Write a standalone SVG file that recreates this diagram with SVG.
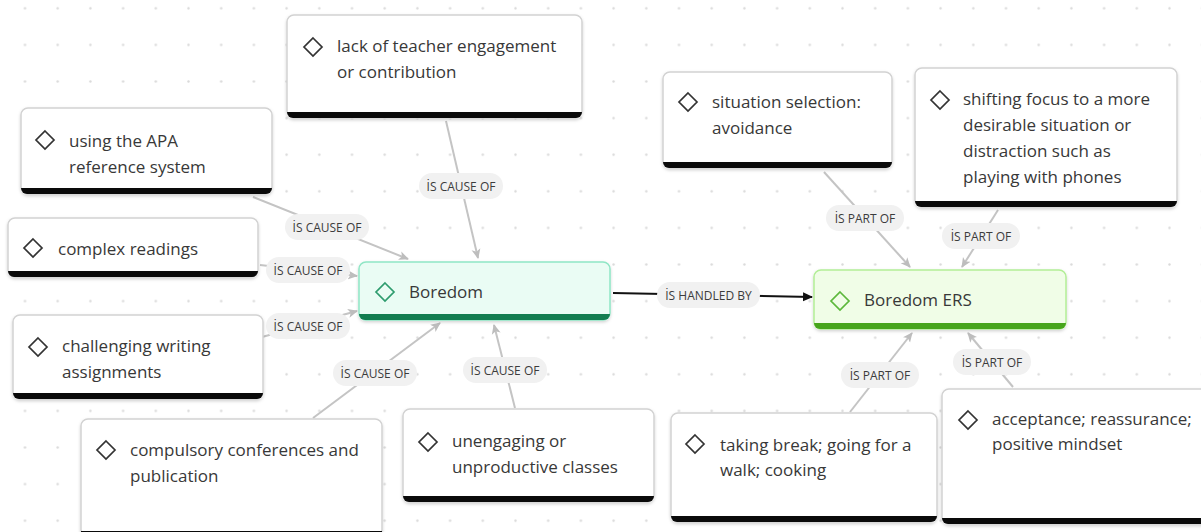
<svg xmlns="http://www.w3.org/2000/svg" width="1201" height="532" viewBox="0 0 1201 532">
  <defs>
    <pattern id="dots" x="8.65" y="-10" width="32.7" height="36.6" patternUnits="userSpaceOnUse">
      <circle cx="16.35" cy="18.3" r="1.2" fill="#dadada"/>
    </pattern>
    <filter id="shadow" x="-10%" y="-10%" width="120%" height="130%">
      <feDropShadow dx="0" dy="1.5" stdDeviation="1.5" flood-color="#000" flood-opacity="0.18"/>
    </filter>
    <marker id="arrow-grey" viewBox="0 0 10 10" refX="9" refY="5" markerWidth="10" markerHeight="10" markerUnits="userSpaceOnUse" orient="auto">
      <path d="M0,0.5 L10,5 L0,9.5 L2.5,5 Z" fill="#bdbdbd"/>
    </marker>
    <marker id="arrow-black" viewBox="0 0 10 10" refX="9" refY="5" markerWidth="10" markerHeight="10" markerUnits="userSpaceOnUse" orient="auto">
      <path d="M0,0.5 L10,5 L0,9.5 Z" fill="#111"/>
    </marker>
  </defs>
  <style>
    .bg { fill: #ffffff; }
    .card { fill: #ffffff; stroke: #d2d2d2; stroke-width: 1.5; filter: url(#shadow); }
    .bar { fill: #0a0a0a; }
    .icon { fill: none; stroke: #333; stroke-width: 1.7; stroke-linejoin: miter; }
    .txt { font-family: "Open Sans", "Noto Sans", "Liberation Sans", sans-serif; font-size: 17px; font-weight: 500; fill: #383838; }
    .link { fill: none; stroke: #c4c4c4; stroke-width: 2; marker-end: url(#arrow-grey); }
    .link-main { fill: none; stroke: #111; stroke-width: 2; marker-end: url(#arrow-black); }
    .pill { fill: #f1f1f1; }
    .lbl { font-family: "Open Sans", "Noto Sans", "Liberation Sans", sans-serif; font-size: 12px; font-weight: 500; fill: #3c3c3c; text-anchor: middle; }
    .root .card { fill: #eafcf4; stroke: #8fe6c5; }
    .root .bar { fill: #137d50; }
    .root .icon { stroke: #2e9c6e; }
    .ers .card { fill: #f0fde7; stroke: #b2ee96; }
    .ers .bar { fill: #47a51c; }
    .ers .icon { stroke: #5cb83c; }
  </style>

  <rect class="bg" x="0" y="0" width="1201" height="532"/>
  <rect x="0" y="0" width="1201" height="532" fill="url(#dots)"/>

  <!-- connectors -->
  <g id="connectors">
    <line class="link" x1="446" y1="121" x2="478" y2="258"/>
    <line class="link" x1="253" y1="197" x2="408" y2="259"/>
    <line class="link" x1="260" y1="265" x2="357" y2="276"/>
    <line class="link" x1="262" y1="337" x2="357" y2="311"/>
    <line class="link" x1="313" y1="418" x2="440" y2="323"/>
    <line class="link" x1="515" y1="408" x2="494" y2="325"/>
    <line class="link-main" x1="613" y1="293" x2="812" y2="297"/>
    <line class="link" x1="824" y1="172" x2="910" y2="267"/>
    <line class="link" x1="998" y1="210" x2="962" y2="267"/>
    <line class="link" x1="850" y1="412" x2="912" y2="333"/>
    <line class="link" x1="1013" y1="387" x2="968" y2="333"/>

    <rect class="pill" x="419" y="173" width="84" height="26" rx="13"/>
    <text class="lbl" x="461" y="190.5">İS CAUSE OF</text>
    <rect class="pill" x="285" y="214" width="84" height="26" rx="13"/>
    <text class="lbl" x="327" y="231.5">İS CAUSE OF</text>
    <rect class="pill" x="266" y="257" width="84" height="26" rx="13"/>
    <text class="lbl" x="308" y="274.5">İS CAUSE OF</text>
    <rect class="pill" x="266" y="313" width="84" height="26" rx="13"/>
    <text class="lbl" x="308" y="330.5">İS CAUSE OF</text>
    <rect class="pill" x="333" y="360" width="84" height="26" rx="13"/>
    <text class="lbl" x="375" y="377.5">İS CAUSE OF</text>
    <rect class="pill" x="463" y="357" width="84" height="26" rx="13"/>
    <text class="lbl" x="505" y="374.5">İS CAUSE OF</text>
    <rect class="pill" x="657" y="282" width="103" height="26" rx="13"/>
    <text class="lbl" x="708.5" y="299.5">İS HANDLED BY</text>
    <rect class="pill" x="826" y="205" width="78" height="26" rx="13"/>
    <text class="lbl" x="865" y="222.5">İS PART OF</text>
    <rect class="pill" x="942" y="223" width="78" height="26" rx="13"/>
    <text class="lbl" x="981" y="240.5">İS PART OF</text>
    <rect class="pill" x="841" y="362" width="78" height="26" rx="13"/>
    <text class="lbl" x="880" y="379.5">İS PART OF</text>
    <rect class="pill" x="953" y="349" width="78" height="26" rx="13"/>
    <text class="lbl" x="992" y="366.5">İS PART OF</text>
  </g>

  <!-- cause nodes -->
  <g id="node-teacher">
    <rect class="card" x="287" y="15" width="295" height="103" rx="7"/>
    <path class="bar" d="M287,112 H582 A6,6 0 0 1 576,118 H293 A6,6 0 0 1 287,112 Z"/>
    <path class="icon" d="M313,38 L322,47 L313,56 L304,47 Z"/>
    <text class="txt" x="337" y="52">lack of teacher engagement</text>
    <text class="txt" x="337" y="78">or contribution</text>
  </g>

  <g id="node-apa">
    <rect class="card" x="21" y="108" width="251" height="86" rx="7"/>
    <path class="bar" d="M21,188 H272 A6,6 0 0 1 266,194 H27 A6,6 0 0 1 21,188 Z"/>
    <path class="icon" d="M45,131 L54,140 L45,149 L36,140 Z"/>
    <text class="txt" x="69" y="147">using the APA</text>
    <text class="txt" x="69" y="173">reference system</text>
  </g>

  <g id="node-readings">
    <rect class="card" x="8" y="218" width="250" height="59" rx="7"/>
    <path class="bar" d="M8,271 H258 A6,6 0 0 1 252,277 H14 A6,6 0 0 1 8,271 Z"/>
    <path class="icon" d="M33,239 L42,248 L33,257 L24,248 Z"/>
    <text class="txt" x="58" y="255">complex readings</text>
  </g>

  <g id="node-writing">
    <rect class="card" x="13" y="315" width="250" height="84" rx="7"/>
    <path class="bar" d="M13,393 H263 A6,6 0 0 1 257,399 H19 A6,6 0 0 1 13,393 Z"/>
    <path class="icon" d="M38,338 L47,347 L38,356 L29,347 Z"/>
    <text class="txt" x="62" y="352">challenging writing</text>
    <text class="txt" x="62" y="378">assignments</text>
  </g>

  <g id="node-conferences">
    <rect class="card" x="81" y="419" width="301" height="118" rx="7"/>
    <path class="bar" d="M81,531 H382 A6,6 0 0 1 376,537 H87 A6,6 0 0 1 81,531 Z"/>
    <path class="icon" d="M106,441 L115,450 L106,459 L97,450 Z"/>
    <text class="txt" x="130" y="456">compulsory conferences and</text>
    <text class="txt" x="130" y="482">publication</text>
  </g>

  <g id="node-classes">
    <rect class="card" x="403" y="409" width="251" height="93" rx="7"/>
    <path class="bar" d="M403,496 H654 A6,6 0 0 1 648,502 H409 A6,6 0 0 1 403,496 Z"/>
    <path class="icon" d="M428,433 L437,442 L428,451 L419,442 Z"/>
    <text class="txt" x="452" y="447">unengaging or</text>
    <text class="txt" x="452" y="473">unproductive classes</text>
  </g>

  <!-- central topics -->
  <g id="node-boredom" class="root">
    <rect class="card" x="359" y="262" width="251" height="58" rx="7"/>
    <path class="bar" d="M359,314 H610 A6,6 0 0 1 604,320 H365 A6,6 0 0 1 359,314 Z"/>
    <path class="icon" d="M385,283 L394,292 L385,301 L376,292 Z"/>
    <text class="txt" x="409" y="298">Boredom</text>
  </g>

  <g id="node-boredom-ers" class="ers">
    <rect class="card" x="814" y="270" width="252" height="59" rx="7"/>
    <path class="bar" d="M814,323 H1066 A6,6 0 0 1 1060,329 H820 A6,6 0 0 1 814,323 Z"/>
    <path class="icon" d="M840,292 L849,301 L840,310 L831,301 Z"/>
    <text class="txt" x="864" y="306">Boredom ERS</text>
  </g>

  <!-- regulation strategies -->
  <g id="node-avoidance">
    <rect class="card" x="663" y="72" width="229" height="96" rx="7"/>
    <path class="bar" d="M663,162 H892 A6,6 0 0 1 886,168 H669 A6,6 0 0 1 663,162 Z"/>
    <path class="icon" d="M688,93 L697,102 L688,111 L679,102 Z"/>
    <text class="txt" x="712" y="108">situation selection:</text>
    <text class="txt" x="712" y="134">avoidance</text>
  </g>

  <g id="node-distraction">
    <rect class="card" x="915" y="68" width="262" height="139" rx="7"/>
    <path class="bar" d="M915,201 H1177 A6,6 0 0 1 1171,207 H921 A6,6 0 0 1 915,201 Z"/>
    <path class="icon" d="M940,91 L949,100 L940,109 L931,100 Z"/>
    <text class="txt" x="963" y="105">shifting focus to a more</text>
    <text class="txt" x="963" y="131">desirable situation or</text>
    <text class="txt" x="963" y="157">distraction such as</text>
    <text class="txt" x="963" y="183">playing with phones</text>
  </g>

  <g id="node-break">
    <rect class="card" x="671" y="413" width="266" height="109" rx="7"/>
    <path class="bar" d="M671,516 H937 A6,6 0 0 1 931,522 H677 A6,6 0 0 1 671,516 Z"/>
    <path class="icon" d="M695,435 L704,444 L695,453 L686,444 Z"/>
    <text class="txt" x="720" y="451">taking break; going for a</text>
    <text class="txt" x="720" y="476">walk; cooking</text>
  </g>

  <g id="node-acceptance">
    <rect class="card" x="942" y="389" width="272" height="135" rx="7"/>
    <path class="bar" d="M942,518 H1214 A6,6 0 0 1 1208,524 H948 A6,6 0 0 1 942,518 Z"/>
    <path class="icon" d="M968,411 L977,420 L968,429 L959,420 Z"/>
    <text class="txt" x="992" y="425">acceptance; reassurance;</text>
    <text class="txt" x="992" y="450">positive mindset</text>
  </g>
</svg>
